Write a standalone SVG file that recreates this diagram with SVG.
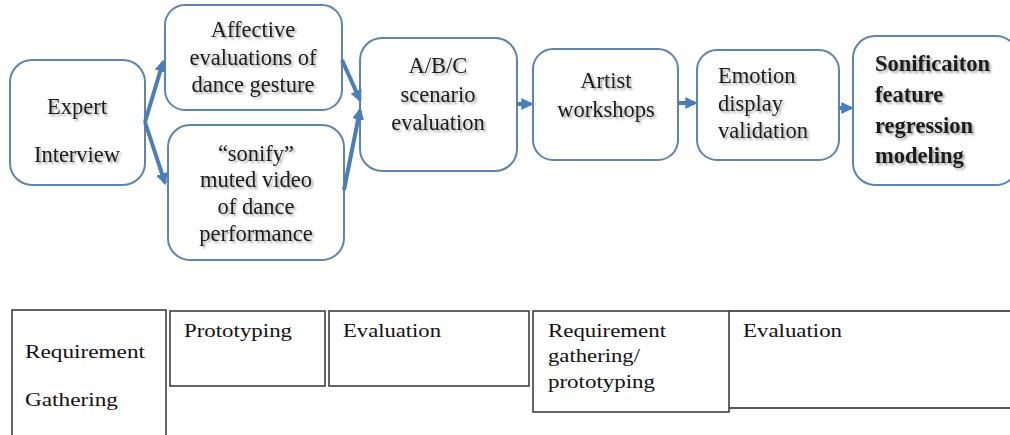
<svg xmlns="http://www.w3.org/2000/svg" width="1010" height="435" viewBox="0 0 1010 435">
<defs>
<marker id="ah" viewBox="0 0 10 10" refX="8" refY="5" markerWidth="3" markerHeight="3" orient="auto" markerUnits="strokeWidth">
<path d="M0,0 L10,5 L0,10 z" fill="#4A7EBB"/>
</marker>
<filter id="sh" x="-10%" y="-10%" width="130%" height="130%">
<feGaussianBlur in="SourceAlpha" stdDeviation="1.2"/>
<feOffset dx="1.5" dy="1.5" result="b"/>
<feComponentTransfer><feFuncA type="linear" slope="0.35"/></feComponentTransfer>
<feMerge><feMergeNode/><feMergeNode in="SourceGraphic"/></feMerge>
</filter>
</defs>
<style>
.node{fill:#ffffff;stroke:#5F84AE;stroke-width:2}
.t{font-family:"Liberation Serif","Times New Roman",serif;font-size:22.5px;fill:#1a1a1a;filter:url(#sh)}
.c{text-anchor:middle}
.b{font-weight:bold}
.conn{stroke:#4A7EBB;stroke-width:4;fill:none;marker-end:url(#ah)}
.cell{fill:#ffffff;stroke:#333333;stroke-width:1.5}
.bt{font-family:"Liberation Serif","Times New Roman",serif;font-size:19px;fill:#111111}
</style>
<rect width="1010" height="435" fill="#ffffff"/>
<g id="expert">
<rect class="node" x="10" y="60" width="135" height="125" rx="22"/>
<text class="t c" x="77" y="114">Expert</text>
<text class="t c" x="77" y="162">Interview</text>
</g>
<g id="affective">
<rect class="node" x="165" y="5" width="177" height="105" rx="20"/>
<text class="t c" x="253" y="37">Affective</text>
<text class="t c" x="253" y="65">evaluations of</text>
<text class="t c" x="253" y="92">dance gesture</text>
</g>
<g id="sonify">
<rect class="node" x="168" y="125" width="176" height="135" rx="22"/>
<text class="t c" x="256" y="161">“sonify”</text>
<text class="t c" x="256" y="187">muted video</text>
<text class="t c" x="256" y="214">of dance</text>
<text class="t c" x="256" y="241">performance</text>
</g>
<g id="abc">
<rect class="node" x="360" y="38" width="157" height="133" rx="22"/>
<text class="t c" x="438" y="73">A/B/C</text>
<text class="t c" x="438" y="102">scenario</text>
<text class="t c" x="438" y="130">evaluation</text>
</g>
<g id="artist">
<rect class="node" x="533" y="49" width="145" height="111" rx="20"/>
<text class="t c" x="606" y="88">Artist</text>
<text class="t c" x="606" y="117">workshops</text>
</g>
<g id="emotion">
<rect class="node" x="697" y="50" width="142" height="110" rx="20"/>
<text class="t" x="718" y="83">Emotion</text>
<text class="t" x="718" y="111">display</text>
<text class="t" x="718" y="138">validation</text>
</g>
<g id="sonification">
<rect class="node" x="853" y="36" width="165" height="149" rx="22"/>
<text class="t b" x="875" y="71">Sonificaiton</text>
<text class="t b" x="875" y="102">feature</text>
<text class="t b" x="875" y="133">regression</text>
<text class="t b" x="875" y="163">modeling</text>
</g>
<g id="connectors">
<path class="conn" d="M145,122 L163,62"/>
<path class="conn" d="M145,122 L165,183"/>
<path class="conn" d="M342,60 L360,100"/>
<path class="conn" d="M344,190 L360,110"/>
<path class="conn" d="M517,104 L531,104"/>
<path class="conn" d="M678,103 L695,103"/>
<path class="conn" d="M839,108 L851,108"/>
</g>
<g id="timeline">
<path d="M12,440 L12,310 L166,310 L166,440" fill="none" stroke="#333333" stroke-width="1.5"/>
<rect class="cell" x="170" y="311" width="155" height="75"/>
<rect class="cell" x="329" y="311" width="200" height="75"/>
<path d="M729,311 L1012,311 M729,408 L1012,408" fill="none" stroke="#222222" stroke-width="1.5"/>
<rect class="cell" x="533" y="311" width="196" height="101"/>
<text class="bt" x="25" y="358" textLength="120" lengthAdjust="spacingAndGlyphs">Requirement</text>
<text class="bt" x="25" y="406" textLength="93" lengthAdjust="spacingAndGlyphs">Gathering</text>
<text class="bt" x="184" y="337" textLength="108" lengthAdjust="spacingAndGlyphs">Prototyping</text>
<text class="bt" x="343" y="337" textLength="98" lengthAdjust="spacingAndGlyphs">Evaluation</text>
<text class="bt" x="548" y="337" textLength="118" lengthAdjust="spacingAndGlyphs">Requirement</text>
<text class="bt" x="548" y="362" textLength="92" lengthAdjust="spacingAndGlyphs">gathering/</text>
<text class="bt" x="548" y="388" textLength="107" lengthAdjust="spacingAndGlyphs">prototyping</text>
<text class="bt" x="743" y="337" textLength="99" lengthAdjust="spacingAndGlyphs">Evaluation</text>
</g>
</svg>
